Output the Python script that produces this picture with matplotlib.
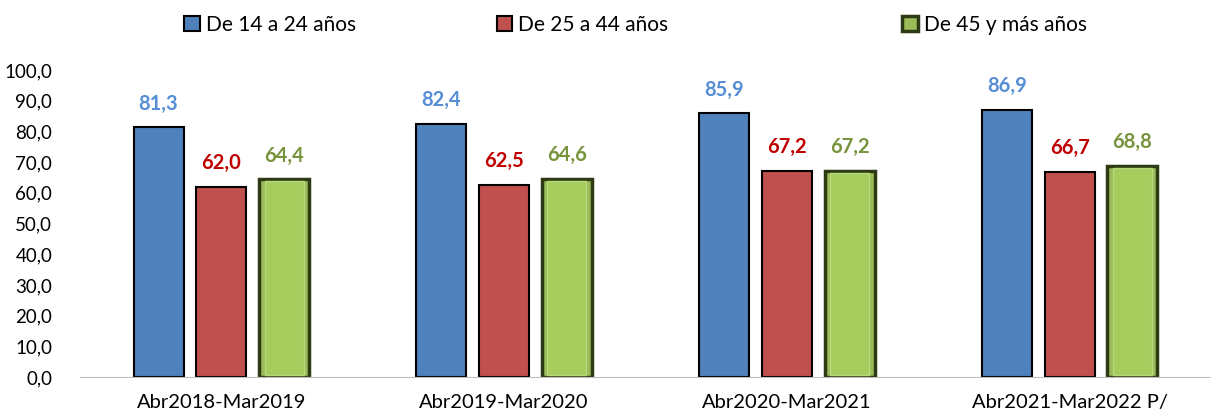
import numpy as np
import matplotlib.pyplot as plt

periodos = ["Abr2018-Mar2019", "Abr2019-Mar2020", "Abr2020-Mar2021", "Abr2021-Mar2022 P/"]
grupo_14_24 = [81.3, 82.4, 85.9, 86.9]
grupo_25_44 = [62.0, 62.5, 67.2, 66.7]
grupo_45_mas = [64.4, 64.6, 67.2, 68.8]

series = [
    ("De 14 a 24 años", grupo_14_24, "#4F81BD", "black", 1.5, "#558ED5"),
    ("De 25 a 44 años", grupo_25_44, "#C0504D", "black", 1.5, "#C00000"),
    ("De 45 y más años", grupo_45_mas, "#9BBB59", "#2E3A14", 2.5, "#77933C"),
]

plt.rcParams["font.family"] = ["Lato", "DejaVu Sans"]

fig = plt.figure(figsize=(12.11, 4.12), dpi=100)
ax = fig.add_axes([0.066, 0.085, 0.934, 0.745])

x = np.arange(len(periodos))
width = 0.177
step = 0.222

handles = []
for i, (name, vals, color, edge, lw, lab_color) in enumerate(series):
    pos = x + (i - 1) * step
    bars = ax.bar(pos, vals, width, color=color, edgecolor=edge, linewidth=lw, label=name)
    handles.append(bars)
    if i == 2:
        # light inner highlight to mimic the bevelled look
        ax.bar(pos, np.array(vals) - 1.2, width * 0.78, bottom=0.6, color="#A6CC5E",
               edgecolor="#B8D97A", linewidth=1.0)
    for p, v in zip(pos, vals):
        ax.text(p, v + 4.5, f"{v:.1f}".replace(".", ","), ha="center", va="bottom",
                fontsize=14.5, fontweight="bold", color=lab_color)

ax.set_xlim(-0.5, len(periodos) - 0.5)
ax.set_ylim(0, 100)
ax.set_yticks(np.arange(0, 101, 10))
ax.set_yticklabels([f"{t:.1f}".replace(".", ",") for t in np.arange(0, 101, 10)], fontsize=13.5)
ax.set_xticks(x)
ax.set_xticklabels(periodos, fontsize=14.5)
ax.tick_params(axis="x", length=0, pad=12)
ax.tick_params(axis="y", length=0, pad=20)
for s in ["top", "right", "left"]:
    ax.spines[s].set_visible(False)
ax.spines["bottom"].set_color("#BFBFBF")

# legend entries are not evenly spaced in the original, so place each one
legend_x = [0.152, 0.410, 0.745]
for h, (name, *_), lx in zip(handles, series, legend_x):
    leg = fig.legend([h], [name], loc="center left", bbox_to_anchor=(lx, 0.939),
                     frameon=False, fontsize=15, handlelength=0.75, handleheight=0.75,
                     handletextpad=0.3, borderpad=0, borderaxespad=0)

fig.savefig("out.png", dpi=100)
